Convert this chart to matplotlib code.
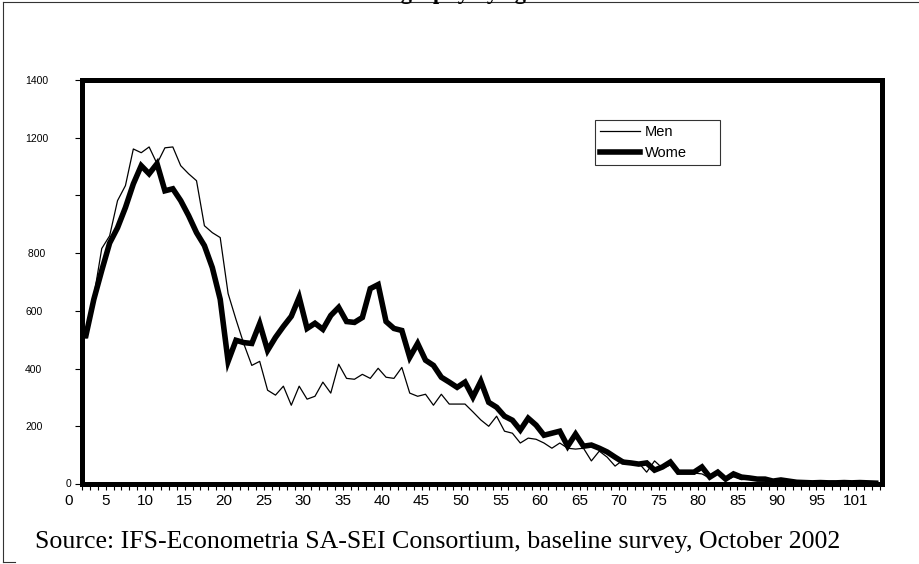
import numpy as np
import matplotlib
matplotlib.use("Agg")
import matplotlib.pyplot as plt
from matplotlib.lines import Line2D

# categories: one per year of age (first drawn category is 3)
ages = np.arange(3, 104)

men = [505, 650, 816, 860, 982, 1034, 1161, 1148, 1168, 1110,
       1165, 1168, 1103, 1075, 1051, 895, 871, 854, 660, 570,
       485, 411, 425, 325, 308, 339, 273, 339, 294, 304,
       353, 315, 415, 366, 363, 380, 366, 401, 370, 366,
       404, 315, 304, 311, 273, 311, 277, 277, 277, 250,
       222, 200, 235, 183, 176, 142, 159, 155, 142, 124,
       142, 124, 121, 124, 80, 114, 93, 62, 83, 73,
       73, 41, 80, 55, 66, 41, 38, 38, 35, 20,
       35, 12, 25, 15, 18, 12, 10, 7, 8, 6,
       4, 3, 2, 3, 2, 2, 3, 2, 2, 1, 1]

women = [515, 640, 740, 835, 888, 958, 1040, 1103, 1075, 1110,
         1016, 1023, 982, 930, 871, 826, 750, 640, 425, 498,
         490, 487, 556, 463, 508, 546, 581, 647, 539, 557,
         536, 584, 612, 563, 560, 577, 677, 691, 563, 539,
         532, 439, 487, 429, 411, 370, 353, 335, 353, 301,
         356, 283, 266, 235, 221, 187, 228, 204, 169, 176,
         183, 131, 173, 131, 135, 124, 111, 93, 76, 73,
         69, 73, 48, 59, 76, 41, 41, 41, 59, 24,
         41, 17, 35, 24, 21, 17, 17, 10, 14, 10,
         6, 5, 4, 5, 4, 4, 5, 4, 5, 4, 3]

xlabels = [str(k) for k in range(5, 100, 5)] + ["101"]
xlabel_pos = [k + 0.5 for k in range(5, 100, 5)] + [100.5]
yticks = list(range(0, 1401, 200))
ylabels = ["", "200", "400", "600", " 800", "", "1200", "1400"]

source = "Source: IFS-Econometria SA-SEI Consortium, baseline survey, October 2002"

plt.rcParams['font.family'] = ['Liberation Sans', 'DejaVu Sans']

fig = plt.figure(figsize=(9.2, 5.64), dpi=100)
ax = fig.add_axes([82/920, 1-484/564, 800/920, 404/564])

ax.plot(ages, men, color='black', lw=0.9, label='Men')
ax.plot(ages, women, color='black', lw=4, solid_joinstyle='miter', label='Wome')

ax.set_xlim(2.5, 103.8)
ax.set_ylim(0, 1400)

for s in ax.spines.values():
    s.set_linewidth(3.6)
    s.set_color('black')

ax.set_yticks(yticks)
ax.set_yticklabels(ylabels, fontsize=7.5, ha='left')
ax.tick_params(axis='y', direction='out', length=5, width=0.8, pad=36)

ax.set_xticks(xlabel_pos)
ax.set_xticklabels(xlabels, fontsize=11)
ax.set_xticks(np.arange(2.5, 104, 1), minor=True)
ax.tick_params(axis='x', which='both', direction='out', length=4, width=0.8, pad=3)

# the "0" labels sit outside the plotted range
ax.text(0.85, -0.024, "0", transform=ax.get_xaxis_transform(), fontsize=11,
        ha='center', va='top')
ax.text(-0.0163, 0, "0", transform=ax.get_yaxis_transform(), fontsize=7.5,
        ha='center', va='center')

leg = ax.legend(loc='upper left', bbox_to_anchor=(0.641, 0.782, 0.1565, 0.119),
                mode='expand', fontsize=10.5, frameon=True, fancybox=False,
                borderpad=0.35, labelspacing=0.45, handlelength=2.75,
                handletextpad=0.35, borderaxespad=0)
leg.get_frame().set_edgecolor('black')
leg.get_frame().set_linewidth(0.8)

fig.text(35/920, 1-548/564, source, fontsize=18.6, family='Liberation Serif',
         ha='left', va='baseline')

# chart title, cut off by the top of the picture
fig.text(440/920, 1+1/564, "Demography by age", fontsize=16, weight='bold',
         family='Liberation Serif', ha='center', va='baseline')

# outer border of the chart area
fig.add_artist(Line2D([3/920, 1], [1-2/564, 1-2/564], color='#333333', lw=0.8,
                      transform=fig.transFigure))
fig.add_artist(Line2D([3/920, 3/920], [1-2/564, 1-562/564], color='#333333', lw=0.8,
                      transform=fig.transFigure))
fig.add_artist(Line2D([3/920, 15/920], [1-562/564, 1-562/564], color='#333333', lw=0.8,
                      transform=fig.transFigure))

fig.savefig("out.png", dpi=100)
